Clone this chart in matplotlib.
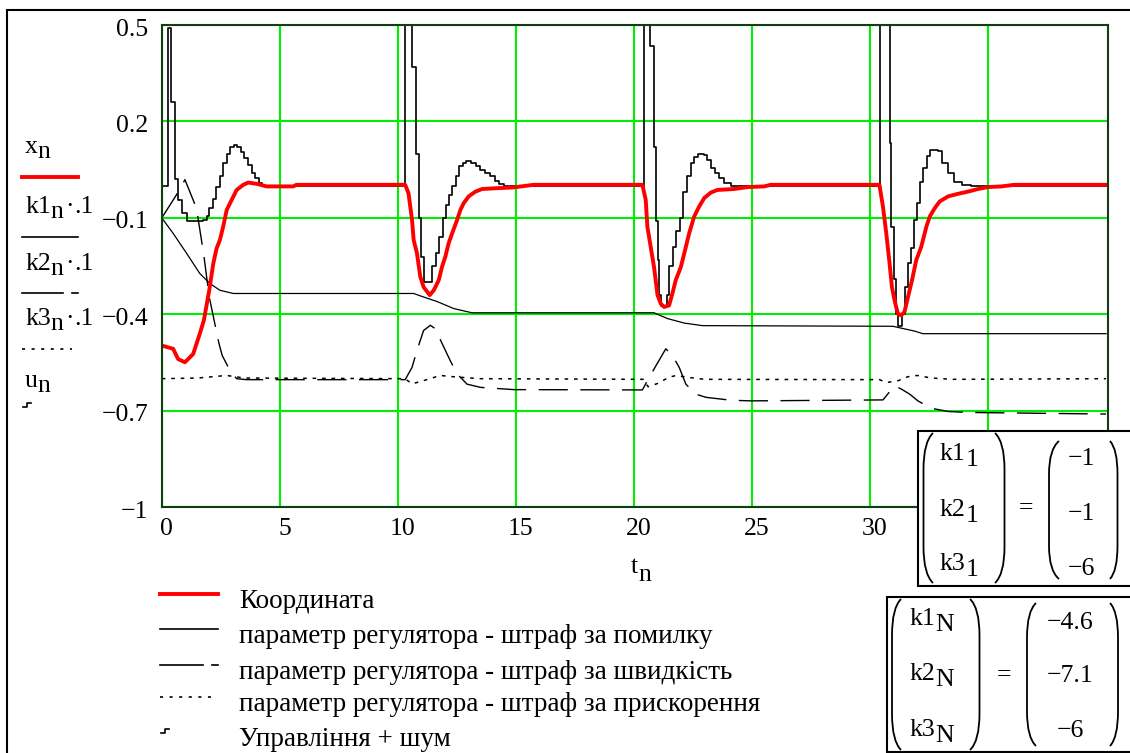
import matplotlib
matplotlib.use("Agg")
import matplotlib.pyplot as plt
from matplotlib.path import Path
from matplotlib.patches import PathPatch, Rectangle
from matplotlib.transforms import ScaledTranslation

plt.rcParams['font.family'] = ['Liberation Serif', 'DejaVu Serif']
plt.rcParams['lines.scale_dashes'] = False
plt.rcParams['axes.unicode_minus'] = True

# ---------------------------------------------------------------- data
# coordinate x_n (time, value)
x_pts = [(0, -0.497), (0.48, -0.507), (0.69, -0.539), (0.98, -0.549), (1.33, -0.523),
         (1.61, -0.46), (1.78, -0.419), (2.01, -0.325), (2.18, -0.242), (2.32, -0.195),
         (2.46, -0.169), (2.6, -0.127), (2.75, -0.075), (2.96, -0.044), (3.17, -0.013),
         (3.45, 0.003), (3.66, 0.01), (4.02, 0.006), (4.44, -0.002), (5.57, -0.002),
         (5.7, 0.003), (10.31, 0.003), (10.45, -0.023), (10.6, -0.106), (10.67, -0.169),
         (10.81, -0.21), (10.95, -0.283), (11.09, -0.315), (11.35, -0.34), (11.52, -0.325),
         (11.73, -0.294), (11.87, -0.252), (12.01, -0.221), (12.15, -0.179), (12.3, -0.148),
         (12.51, -0.106), (12.65, -0.075), (12.79, -0.054), (13.0, -0.033), (13.29, -0.018),
         (13.57, -0.01), (14.35, -0.007), (14.91, -0.005), (15.76, 0.003), (20.36, 0.003),
         (20.5, -0.044), (20.57, -0.127), (20.71, -0.19), (20.85, -0.252), (21.0, -0.34),
         (21.14, -0.367), (21.28, -0.377), (21.49, -0.372), (21.63, -0.335), (21.77, -0.294),
         (21.99, -0.252), (22.2, -0.19), (22.34, -0.148), (22.55, -0.096), (22.76, -0.065),
         (22.98, -0.038), (23.26, -0.021), (23.54, -0.013), (24.25, -0.01), (24.82, -0.004),
         (25.52, -0.002), (25.8, 0.003), (30.4, 0.003), (30.55, -0.065), (30.69, -0.148),
         (30.83, -0.242), (30.93, -0.315), (31.04, -0.356), (31.18, -0.398), (31.32, -0.403),
         (31.46, -0.393), (31.61, -0.346), (31.78, -0.294), (31.96, -0.231), (32.17, -0.19),
         (32.39, -0.127), (32.53, -0.096), (32.74, -0.07), (32.95, -0.049), (33.31, -0.033),
         (33.73, -0.025), (34.16, -0.018), (34.58, -0.01), (35.0, -0.004), (35.57, -0.002),
         (36.13, 0.003), (40, 0.003)]

# controller parameter k1 (penalty for error)
k1_pts = [(0, -1.0), (0.48, -1.48), (1.05, -2.1), (1.61, -2.73), (2.04, -3.04),
          (2.46, -3.25), (3.03, -3.35), (10.67, -3.35), (11.09, -3.46), (11.66, -3.6),
          (12.37, -3.82), (13.14, -3.95), (20.85, -3.95), (21.42, -4.13), (22.13, -4.27),
          (22.9, -4.35), (30.97, -4.37), (31.46, -4.45), (31.89, -4.52), (32.24, -4.6),
          (40, -4.6)]

# controller parameter k2 (penalty for velocity)
k2_pts = [(0, -1.0), (0.76, -0.12), (0.98, 0.19), (1.47, -0.7), (1.78, -2.16),
          (2.01, -3.46), (2.42, -4.9), (2.56, -5.28), (2.89, -5.75), (3.17, -6.0),
          (3.6, -6.03), (10.31, -6.03), (10.6, -5.65), (10.81, -5.12), (11.09, -4.5),
          (11.38, -4.34), (11.59, -4.45), (11.87, -4.9), (12.22, -5.44), (12.51, -5.85),
          (12.93, -6.17), (13.5, -6.27), (14.91, -6.34), (20.36, -6.35), (20.57, -6.06),
          (20.93, -5.6), (21.35, -5.07), (21.63, -5.28), (21.92, -5.65), (22.2, -6.17),
          (22.62, -6.48), (23.05, -6.58), (24.11, -6.67), (24.96, -6.69), (30.55, -6.66),
          (31.04, -6.22), (31.32, -6.32), (31.68, -6.48), (32.03, -6.69), (32.6, -6.92),
          (33.31, -7.02), (34.16, -7.05), (40, -7.1)]

# controller parameter k3 (penalty for acceleration)
k3_pts = [(0, -6.0), (1.5, -5.98), (2.75, -5.9), (3.5, -5.98), (10.3, -6.0),
          (10.6, -6.16), (11.09, -6.06), (11.8, -5.9), (12.5, -5.95), (13.5, -6.0),
          (20.4, -6.02), (20.6, -6.25), (21.0, -6.15), (21.5, -5.95), (21.8, -5.9),
          (22.3, -5.96), (23.0, -6.02), (30.4, -6.03), (30.7, -6.12), (31.2, -6.06),
          (31.6, -5.94), (32.0, -5.9), (32.6, -5.98), (33.5, -6.02), (40, -6.0)]

# control signal + noise, held constant between samples
u_pts = [(0, 0.0), (0.27, 0.49), (0.41, 0.26), (0.55, 0.02), (0.69, -0.045), (0.84, -0.085),
         (1.05, -0.11), (1.75, -0.105), (1.9, -0.095), (2.0, -0.07), (2.15, -0.04),
         (2.3, -0.005), (2.45, 0.03), (2.6, 0.07), (2.75, 0.1), (2.9, 0.12), (3.05, 0.128),
         (3.2, 0.12), (3.35, 0.105), (3.5, 0.085), (3.65, 0.065), (3.8, 0.04), (3.95, 0.025),
         (4.1, 0.01), (4.25, 0.0), (4.4, -0.005), (5.3, 0.0),
         (10.31, 1.2), (10.62, 0.37), (10.75, 0.1), (10.88, -0.1), (10.98, -0.22), (11.1, -0.3),
         (11.45, -0.25), (11.6, -0.21), (11.75, -0.16), (11.9, -0.1), (12.05, -0.06),
         (12.15, -0.03), (12.3, 0.0), (12.45, 0.03), (12.6, 0.06), (12.75, 0.072), (12.9, 0.077),
         (13.1, 0.072), (13.3, 0.06), (13.5, 0.05), (13.7, 0.04), (13.9, 0.03), (14.1, 0.015),
         (14.3, 0.005), (14.5, 0.0),
         (20.44, 1.2), (20.7, 0.435), (20.86, 0.12), (20.93, -0.11), (21.0, -0.23), (21.07, -0.34),
         (21.15, -0.375), (21.4, -0.34), (21.5, -0.25), (21.65, -0.19), (21.8, -0.14),
         (21.95, -0.1), (22.1, -0.02), (22.25, 0.03), (22.4, 0.07), (22.55, 0.09), (22.7, 0.1),
         (22.95, 0.095), (23.1, 0.08), (23.25, 0.055), (23.45, 0.04), (23.6, 0.024),
         (23.8, 0.008), (24.1, 0.0),
         (30.44, 1.2), (30.83, 0.133), (30.9, -0.127), (31.0, -0.29), (31.12, -0.4),
         (31.2, -0.435), (31.35, -0.4), (31.5, -0.315), (31.62, -0.24), (31.75, -0.195),
         (31.85, -0.105), (31.98, -0.055), (32.1, 0.013), (32.25, 0.055), (32.4, 0.092),
         (32.55, 0.11), (32.9, 0.107), (33.05, 0.07), (33.3, 0.04), (33.55, 0.013),
         (33.9, 0.003), (34.3, 0.0), (40, 0.0)]

k_scale = 0.1
x_ticks = [0, 5, 10, 15, 20, 25, 30, 35]
y_ticks = [-1, -0.7, -0.4, -0.1, 0.2, 0.5]

# trace names: (main text, subscript, factor text)
trace_names = [('x', 'n', ''),
               ('k1', 'n', '.1'),
               ('k2', 'n', '.1'),
               ('k3', 'n', '.1'),
               ('u', 'n', '')]
legend_texts = ['Координата',
                'параметр регулятора - штраф за помилку',
                'параметр регулятора - штраф за швидкість',
                'параметр регулятора - штраф за прискорення',
                'Управління + шум']


def split(pts, scale=1.0):
    return [p[0] for p in pts], [p[1] * scale for p in pts]


def num(v):
    return ('%g' % round(v, 3)).replace('-', '\u2212')


# ---------------------------------------------------------------- figure
W, H = 1130, 753
fig = plt.figure(figsize=(W / 100, H / 100), dpi=100)
fig.patch.set_facecolor('white')

L, R, T, B = 161.8, 1107.7, 25.0, 507.3
ax = fig.add_axes([L / W, 1 - B / H, (R - L) / W, (B - T) / H])
ax.set_xlim(0, 40.07)
ax.set_ylim(-1, 0.5)

GRID = '#00ee00'
FRAME = '#123d12'
FS = 18.5
ax.set_xticks(x_ticks)
ax.set_yticks(y_ticks)
ax.set_xticklabels([num(v) for v in x_ticks])
ax.set_yticklabels([num(v) for v in y_ticks])
ax.tick_params(length=0, labelsize=FS, colors='black')
ax.tick_params(axis='x', pad=8)
ax.tick_params(axis='y', pad=9.5)
for lab in ax.get_xticklabels():
    lab.set_transform(lab.get_transform() + ScaledTranslation(0.05, 0, fig.dpi_scale_trans))
for lab in ax.get_yticklabels():
    lab.set_transform(lab.get_transform() + ScaledTranslation(0, -0.02, fig.dpi_scale_trans))
ax.grid(True, color=GRID, lw=1.5)
ax.set_axisbelow(True)
for s in ax.spines.values():
    s.set_color(FRAME)
    s.set_linewidth(1.5)

DASH = (0, (21, 9))
DOT = (0, (2.6, 4.2))

t, v = split(k1_pts, k_scale)
ax.plot(t, v, color='black', lw=0.9)
t, v = split(k2_pts, k_scale)
ax.plot(t, v, color='black', lw=1.0, linestyle=DASH)
t, v = split(k3_pts, k_scale)
ax.plot(t, v, color='black', lw=1.1, linestyle=DOT)
t, v = split(u_pts)
ax.step(t, v, where='post', color='black', lw=1.2)
t, v = split(x_pts)
ax.plot(t, v, color='#ff0000', lw=2.8, solid_joinstyle='round')

# ---------------------------------------------------------------- overlay in pixel units
ov = fig.add_axes([0, 0, 1, 1])
ov.set_xlim(0, W)
ov.set_ylim(H, 0)
ov.axis('off')
ov.patch.set_visible(False)
ov.set_zorder(5)
renderer = fig.canvas.get_renderer()


def rich(x, y, parts, size=FS, ha='left', zorder=3):
    """Write text pieces side by side; each piece is (text, drop px, gap px before)."""
    items = []
    cx = x
    for s, dy, gap in parts:
        if not s:
            continue
        cx += gap
        tx = ov.text(cx, y + dy, s, fontsize=size, ha='left', va='baseline', zorder=zorder)
        cx += tx.get_window_extent(renderer).width
        items.append(tx)
    if ha == 'center':
        shift = (cx - x) / 2
        for tx in items:
            px, py = tx.get_position()
            tx.set_position((px - shift, py))
    return items


# worksheet region border
ov.plot([7, 7, W + 5], [H + 5, 10, 10], color='black', lw=1.5, solid_joinstyle='miter')


def sample(x0, x1, y, kind):
    if kind == 0:
        ov.plot([x0, x1], [y, y], color='#ff0000', lw=2.8)
    elif kind == 1:
        ov.plot([x0, x1], [y, y], color='black', lw=1.2)
    elif kind == 2:
        w = x1 - x0
        ov.plot([x0, x0 + 0.74 * w], [y, y], color='black', lw=1.2)
        ov.plot([x0 + 0.89 * w, x1], [y, y], color='black', lw=1.2)
    elif kind == 3:
        ov.plot([x0, x1 - 6], [y, y], color='black', lw=1.2, linestyle=(0, (2.2, 4.7)))
    else:
        ov.plot([x0 + 1, x0 + 5, x0 + 5, x0 + 9], [y + 1, y + 1, y - 3, y - 3],
                color='black', lw=1.2)


# trace names beside the y axis
name_base = [153, 213, 270, 325, 387]
name_line = [177, 237, 293, 349, 406]
for i, (main, sub, factor) in enumerate(trace_names):
    parts = [(main, 0, 0), (sub, 5, 0)]
    if factor:
        parts += [('\u00b7', 0, 2), (factor, 0, 0)]
    rich(25, name_base[i], parts)
    sample(22, 78, name_line[i], i)

# x axis title
rich(641, 573, [('t', 0, 0), ('n', 8, 0)], ha='center')

# legend under the plot
leg_line = [594, 629, 665, 697, 732]
for i in range(5):
    sample(160, 218, leg_line[i], i)
    ov.text(239, leg_line[i] + 14, legend_texts[i], fontsize=19.5, ha='left', va='baseline')


def paren(tip, belly, y0, y1):
    h = y1 - y0
    verts = [(tip, y0), (belly, y0 + 0.06 * h), (belly, y0 + 0.24 * h),
             (belly, y1 - 0.24 * h), (belly, y1 - 0.06 * h), (tip, y1)]
    codes = [Path.MOVETO, Path.CURVE3, Path.CURVE3, Path.LINETO, Path.CURVE3, Path.CURVE3]
    ov.add_patch(PathPatch(Path(verts, codes), fill=False, ec='black', lw=1.3, zorder=12))


def matrix_box(x0, y0, x1, y1, names, sub, values, name_x, name_base, val_x, val_base,
               eq_xy, lpar, rpar):
    ov.add_patch(Rectangle((x0, y0), x1 - x0, y1 - y0, fc='white', ec='black', lw=1.5,
                           zorder=10))
    for i in range(3):
        rich(name_x, name_base[i], [(names[i], 0, 0), (sub, 6, 0)], zorder=12)
        ov.text(val_x, val_base[i], num(values[i]), fontsize=FS, ha='center',
                va='baseline', zorder=12)
    ov.text(eq_xy[0], eq_xy[1], '=', fontsize=FS, ha='center', va='center', zorder=12)
    for p in lpar + rpar:
        paren(*p)


first = [k1_pts[0][1], k2_pts[0][1], k3_pts[0][1]]
last = [k1_pts[-1][1], k2_pts[-1][1], k3_pts[-1][1]]

matrix_box(918.3, 430.7, W + 10, 585.7, ['k1', 'k2', 'k3'], '1',
           first, 940, [460, 516, 570], 1081, [465, 520, 575], (1026, 508),
           [(933, 923.5, 433, 583), (995, 1004.5, 433, 583)],
           [(1059, 1049, 441, 579), (1110, 1117.5, 441, 579)])

matrix_box(887.3, 596.7, W + 10, 751.7, ['k1', 'k2', 'k3'], 'N',
           last, 910, [625, 680, 736], 1070.5, [629, 682, 737], (1003.5, 675),
           [(901, 892, 599, 750), (970, 979.5, 599, 750)],
           [(1036, 1027, 603, 746), (1110, 1118, 603, 746)])

fig.savefig('out.png', dpi=100, facecolor='white')
